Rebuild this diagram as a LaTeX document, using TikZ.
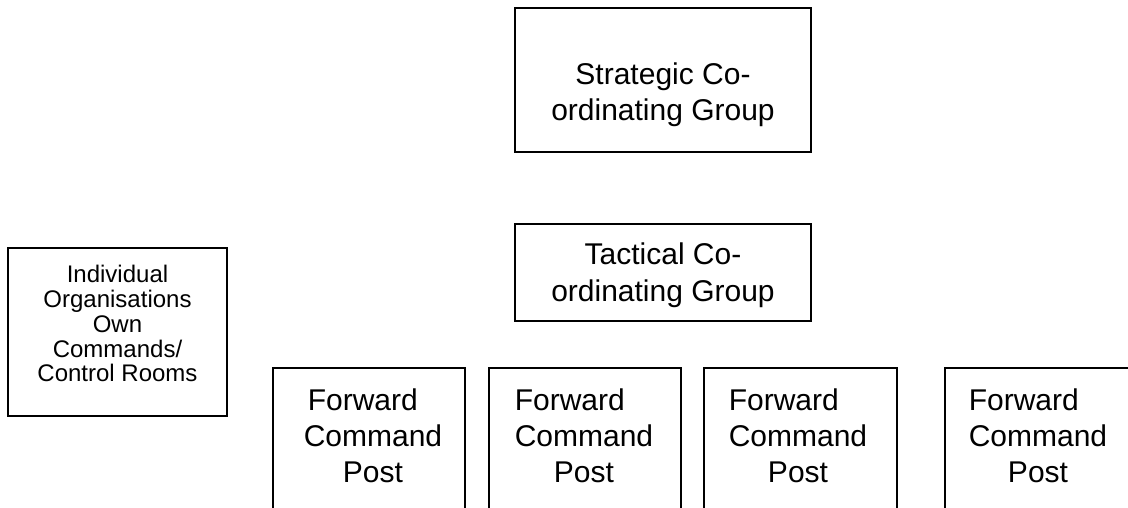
\documentclass[tikz,border=0pt]{standalone}
\usepackage{fontspec}
\setmainfont{Liberation Sans}
% lines of a label, first baseline at the node's base anchor
\newcommand\boxlines[1]{\begin{tabular}[t]{@{}c@{}}#1\end{tabular}}
% "Forward" set from the left over the width of "Command", with an optional indent
\newcommand\fwd[1][0pt]{\rlap{\hspace{#1}Forward}\phantom{Command}}
\begin{document}
\begin{tikzpicture}[x=1pt,y=-1pt,
  frame/.style={draw=black, line width=1.6pt, fill=none, inner sep=0pt, outer sep=0pt, anchor=north west},
  maintext/.style={font=\fontsize{30}{36}\selectfont, inner sep=0pt, anchor=base},
  smalltext/.style={font=\fontsize{24}{25}\selectfont, inner sep=0pt, anchor=base}]
\useasboundingbox (0,0) rectangle (1128,508);
\fill[white] (0,0) rectangle (1128,508);
\clip (0,0) rectangle (1128,508);

% strategic and tactical levels
\node[frame, minimum width=296pt, minimum height=144pt] (strat) at (515,8) {};
\node[maintext] (stratlabel) at (663,85) {\boxlines{Strategic Co-\\ordinating Group}};

\node[frame, minimum width=296pt, minimum height=97pt] (tact) at (515,224) {};
\node[maintext, font=\fontsize{30}{37}\selectfont] (tactlabel) at (663,264) {\boxlines{Tactical Co-\\ordinating Group}};

% organisations' own control rooms
\node[frame, minimum width=219pt, minimum height=168pt] (indiv) at (8,248) {};
\node[smalltext] (indivlabel) at (117.5,282) {\boxlines{Individual\\Organisations\\Own\\Commands/\\Control Rooms}};

% forward command posts (running off the bottom edge)
\node[frame, minimum width=192pt, minimum height=160pt] (fcpa) at (273,368) {};
\node[maintext] (fcpalabel) at (373,410) {\boxlines{\fwd[4pt]\\Command\\Post}};

\node[frame, minimum width=192pt, minimum height=160pt] (fcpb) at (489,368) {};
\node[maintext] (fcpblabel) at (584,410) {\boxlines{\fwd\\Command\\Post}};

\node[frame, minimum width=193pt, minimum height=160pt] (fcpc) at (704,368) {};
\node[maintext] (fcpclabel) at (798,410) {\boxlines{\fwd\\Command\\Post}};

\node[frame, minimum width=192pt, minimum height=160pt] (fcpd) at (945,368) {};
\node[maintext] (fcpdlabel) at (1038,410) {\boxlines{\fwd\\Command\\Post}};
\end{tikzpicture}
\end{document}
